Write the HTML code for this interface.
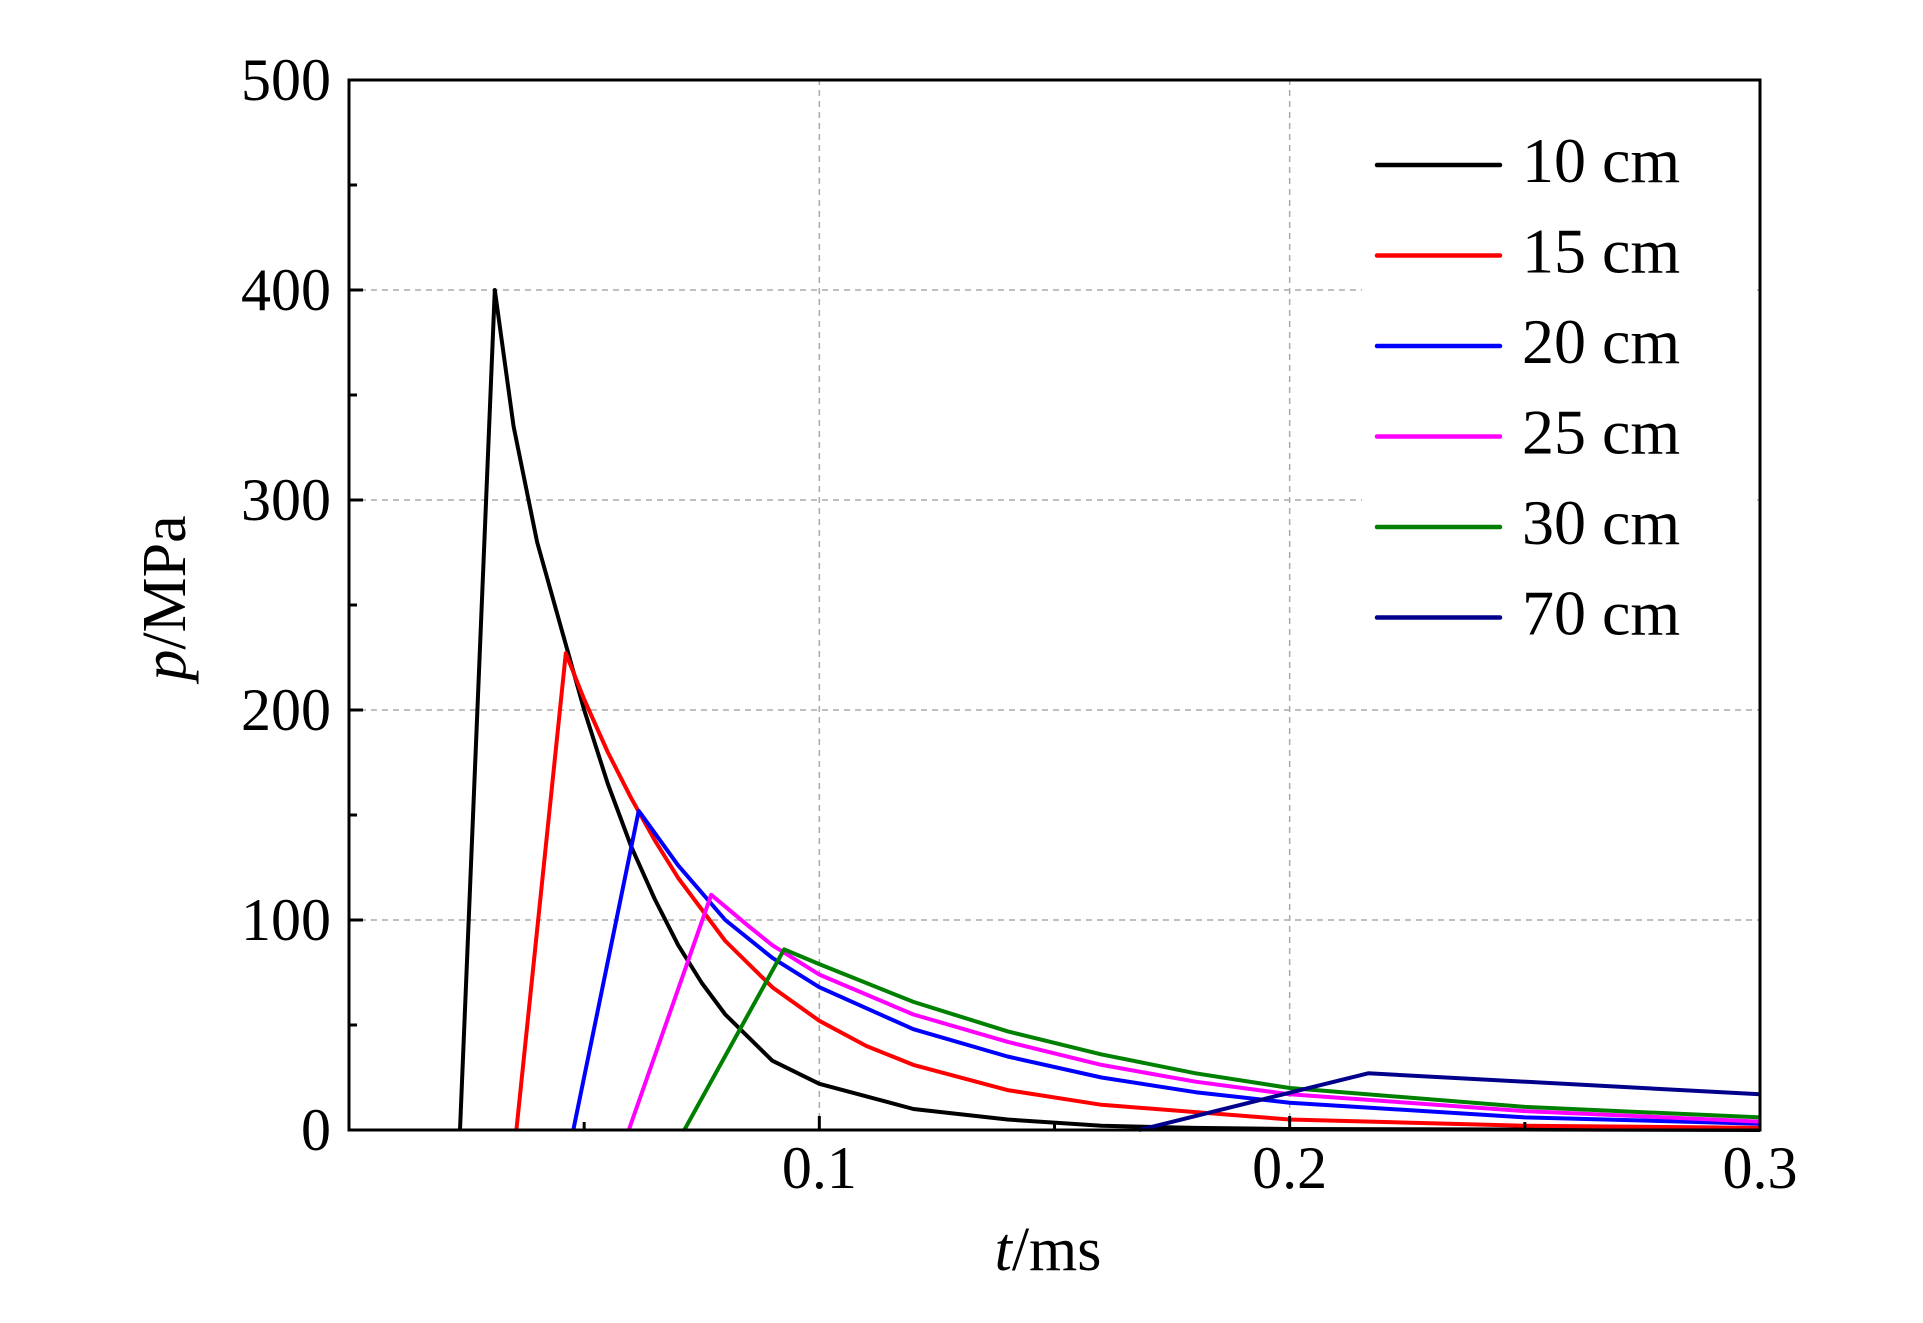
<!DOCTYPE html>
<html><head><meta charset="utf-8"><style>
html,body{margin:0;padding:0;background:#fff;}
svg{display:block;}
text{font-family:"Liberation Serif",serif;fill:#000;}
</style></head><body>
<svg id="chart" width="1923" height="1323" viewBox="0 0 1923 1323">
<g id="grid"></g>
<g id="series"></g>
<rect x="1362" y="125" width="393" height="520" fill="#fff"/>
<g id="legend"></g>
<rect x="349" y="80" width="1411" height="1050" fill="none" stroke="#000" stroke-width="3"/>
<g id="axes"></g>
<text x="1048" y="1270" font-size="62" text-anchor="middle"><tspan font-style="italic">t</tspan>/ms</text>
<text transform="translate(185,598) rotate(-90)" font-size="62" text-anchor="middle"><tspan font-style="italic">p</tspan>/MPa</text>
</svg>
<script>
const names=["10 cm","15 cm","20 cm","25 cm","30 cm","70 cm"];
const colors=["#000000","#ff0000","#0000ff","#ff00ff","#008000","#00008b"];
const t10=[0.0236,0.031,0.035,0.04,0.045,0.05,0.055,0.06,0.065,0.07,0.075,0.08,0.09,0.1,0.12,0.14,0.16,0.18,0.2,0.3];
const p10=[0,400,335,280,240,200,165,135,110,88,70,55,33,22,10,5,2,1,0.5,0];
const t15=[0.0356,0.0461,0.05,0.055,0.06,0.065,0.07,0.08,0.09,0.1,0.11,0.12,0.14,0.16,0.2,0.25,0.3];
const p15=[0,227,205,180,158,138,120,90,68,52,40,31,19,12,5,2,1];
const t20=[0.0477,0.0616,0.07,0.08,0.09,0.1,0.12,0.14,0.16,0.18,0.2,0.25,0.3];
const p20=[0,152,126,100,82,68,48,35,25,18,13,6,3];
const t25=[0.0595,0.077,0.085,0.09,0.1,0.12,0.14,0.16,0.18,0.2,0.25,0.3];
const p25=[0,112,97,88,74,55,42,31,23,17,9,4];
const t30=[0.0713,0.0925,0.1,0.12,0.14,0.16,0.18,0.2,0.25,0.3];
const p30=[0,86,79,61,47,36,27,20,11,6];
const t70=[0.168,0.2167,0.3];
const p70=[0,27,17];
const xTicks=[0.1,0.2,0.3];
const xTickLabels=["0.1","0.2","0.3"];
const yTicks=[0,100,200,300,400,500];
const yTickLabels=["0","100","200","300","400","500"];

const NS="http://www.w3.org/2000/svg";
const X0=349,X1=1760,Y0=1130,Y1=80;
const sx=v=>X0+(v/0.3)*(X1-X0);
const sy=v=>Y0-(v/500)*(Y0-Y1);
function mk(tag,attrs,parent){const e=document.createElementNS(NS,tag);for(const k in attrs)e.setAttribute(k,attrs[k]);parent.appendChild(e);return e;}
const grid=document.getElementById('grid'),axes=document.getElementById('axes'),ser=document.getElementById('series'),leg=document.getElementById('legend');
xTicks.forEach((v,i)=>{
 if(v<0.3){const g=mk('line',{x1:sx(v),x2:sx(v),y1:Y0,y2:Y1,stroke:'#aaa','stroke-width':1.5,'stroke-dasharray':'6,5'},grid);
 
 }
 const tk=mk('line',{x1:sx(v),x2:sx(v),y1:Y0,y2:Y0-14,stroke:'#000','stroke-width':3},axes);
 
 
 const t=mk('text',{x:sx(v),y:1188,'font-size':60,'text-anchor':'middle'},axes);
 t.textContent=xTickLabels[i];
 
 
});
[0.05,0.15,0.25].forEach(v=>{
 const tk=mk('line',{x1:sx(v),x2:sx(v),y1:Y0,y2:Y0-8,stroke:'#000','stroke-width':3},axes);
 
 
});
yTicks.forEach((v,i)=>{
 if(v>0&&v<500){const g=mk('line',{x1:X0,x2:X1,y1:sy(v),y2:sy(v),stroke:'#aaa','stroke-width':1.5,'stroke-dasharray':'6,5'},grid);
 
 }
 const tk=mk('line',{x1:X0,x2:X0+14,y1:sy(v),y2:sy(v),stroke:'#000','stroke-width':3},axes);
 
 
 const t=mk('text',{x:331,y:sy(v)+20,'font-size':60,'text-anchor':'end'},axes);
 t.textContent=yTickLabels[i];
 
 
});
[50,150,250,350,450].forEach(v=>{
 const tk=mk('line',{x1:X0,x2:X0+8,y1:sy(v),y2:sy(v),stroke:'#000','stroke-width':3},axes);
 
 
});
const T=[t10,t15,t20,t25,t30,t70],P=[p10,p15,p20,p25,p30,p70];
T.forEach((ts,i)=>{
 const pts=ts.map((t,j)=>sx(t).toFixed(1)+','+sy(P[i][j]).toFixed(1)).join(' ');
 const pl=mk('polyline',{points:pts,fill:'none',stroke:colors[i],'stroke-width':4,'stroke-linejoin':'round'},ser);
 
 
});
names.forEach((n,i)=>{
 const y=165+i*90.5;
 const l=mk('line',{x1:1377,x2:1500,y1:y,y2:y,stroke:colors[i],'stroke-width':4.5,'stroke-linecap':'round'},leg);
 
 
 const t=mk('text',{x:1522,y:y+17,'font-size':64},leg);
 t.textContent=n;
 
 
});
</script>
</body></html>
